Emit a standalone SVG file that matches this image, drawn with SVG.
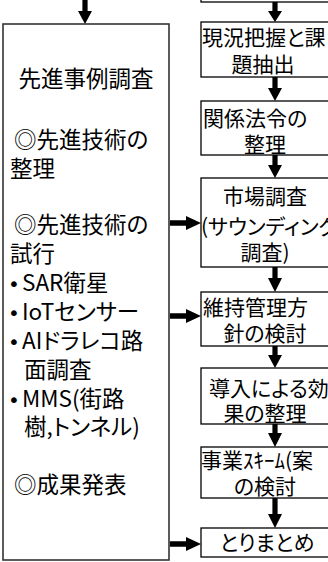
<svg xmlns="http://www.w3.org/2000/svg" width="328" height="562" viewBox="0 0 328 562">
<defs>
<style>
.box{fill:#fff;stroke:#000;stroke-width:1.3}
.lbox{fill:#fff;stroke:#333;stroke-width:1.6}
.t{font-family:"Noto Sans CJK JP","Noto Sans",sans-serif;font-size:21px;fill:#000;font-feature-settings:"palt"}
.lt{font-family:"Noto Sans CJK JP","Noto Sans",sans-serif;font-size:22.5px;fill:#000;font-feature-settings:"palt"}
.b{font-family:"DejaVu Sans",sans-serif;font-size:20px;fill:#000}
.c{text-anchor:middle}
.arr{fill:#000}
</style>
</defs>
<rect width="328" height="562" fill="#fff"/>
<g id="connectors" class="arr">
<path d="M82.4,0 H87.6 V11 H92 L85,24 L78,11 H82.4 Z"/>
<path d="M272.4,2 H277.6 V11 H282 L275,22 L268,11 H272.4 Z"/>
<path d="M272.4,77 H277.6 V88 H282 L275,101 L268,88 H272.4 Z"/>
<path d="M272.4,155 H277.6 V165 H282 L275,178 L268,165 H272.4 Z"/>
<path d="M272.4,267 H277.6 V278 H282 L275,292 L268,278 H272.4 Z"/>
<path d="M272.4,346 H277.6 V355 H282 L275,368 L268,355 H272.4 Z"/>
<path d="M272.4,424 H277.6 V433 H282 L275,447 L268,433 H272.4 Z"/>
<path d="M272.4,498 H277.6 V514 H282 L275,528 L268,514 H272.4 Z"/>
<path d="M170,220.2 H186 V216 L201,223 L186,230 V225.8 H170 Z"/>
<path d="M170,313.2 H186 V309 L201,316 L186,323 V318.8 H170 Z"/>
<path d="M170,541.2 H186 V537 L201,544 L186,551 V546.8 H170 Z"/>
</g>
<g id="left">
<rect class="lbox" x="3" y="24" width="166" height="536"/>
<text class="lt c" x="86" y="87">先進事例調査</text>
<text class="lt" x="14" y="148">◎先進技術の</text>
<text class="lt" x="10" y="177">整理</text>
<text class="lt" x="14" y="233">◎先進技術の</text>
<text class="lt" x="10" y="262">試行</text>
<text class="lt" x="8" y="291"><tspan class="b">•</tspan><tspan x="22">SAR衛星</tspan></text>
<text class="lt" x="8" y="320"><tspan class="b">•</tspan><tspan x="22">IoTセンサー</tspan></text>
<text class="lt" x="8" y="349"><tspan class="b">•</tspan><tspan x="22">AIドラレコ路</tspan></text>
<text class="lt" x="24" y="378">面調査</text>
<text class="lt" x="8" y="407"><tspan class="b">•</tspan><tspan x="22">MMS(街路</tspan></text>
<text class="lt" x="24" y="435">樹,トンネル)</text>
<text class="lt" x="14" y="493">◎成果発表</text>
</g>
<g id="n0"><rect class="box" x="201" y="-20" width="140" height="22"/></g>
<g id="n1">
<rect class="box" x="201" y="22" width="140" height="55"/>
<text class="t" x="202" y="45">現況把握と課</text>
<text class="t c" x="263" y="72">題抽出</text>
</g>
<g id="n2">
<rect class="box" x="201" y="101" width="140" height="54"/>
<text class="t" x="203" y="126">関係法令の</text>
<text class="t c" x="265" y="152">整理</text>
</g>
<g id="n3">
<rect class="box" x="201" y="178" width="140" height="89"/>
<text class="t c" x="265" y="204">市場調査</text>
<text class="t" x="201" y="234">(サウンディング</text>
<text class="t c" x="265" y="260">調査)</text>
</g>
<g id="n4">
<rect class="box" x="201" y="292" width="140" height="54"/>
<text class="t" x="203" y="315">維持管理方</text>
<text class="t c" x="265" y="341">針の検討</text>
</g>
<g id="n5">
<rect class="box" x="201" y="368" width="140" height="56"/>
<text class="t" x="209" y="396">導入による効</text>
<text class="t c" x="265" y="421">果の整理</text>
</g>
<g id="n6">
<rect class="box" x="201" y="447" width="140" height="51"/>
<text class="t" x="201" y="468">事業ｽｷｰﾑ(案</text>
<text class="t c" x="265" y="494">の検討</text>
</g>
<g id="n7">
<rect class="box" x="201" y="528" width="140" height="29"/>
<text class="t c" x="267" y="550">とりまとめ</text>
</g>
</svg>
